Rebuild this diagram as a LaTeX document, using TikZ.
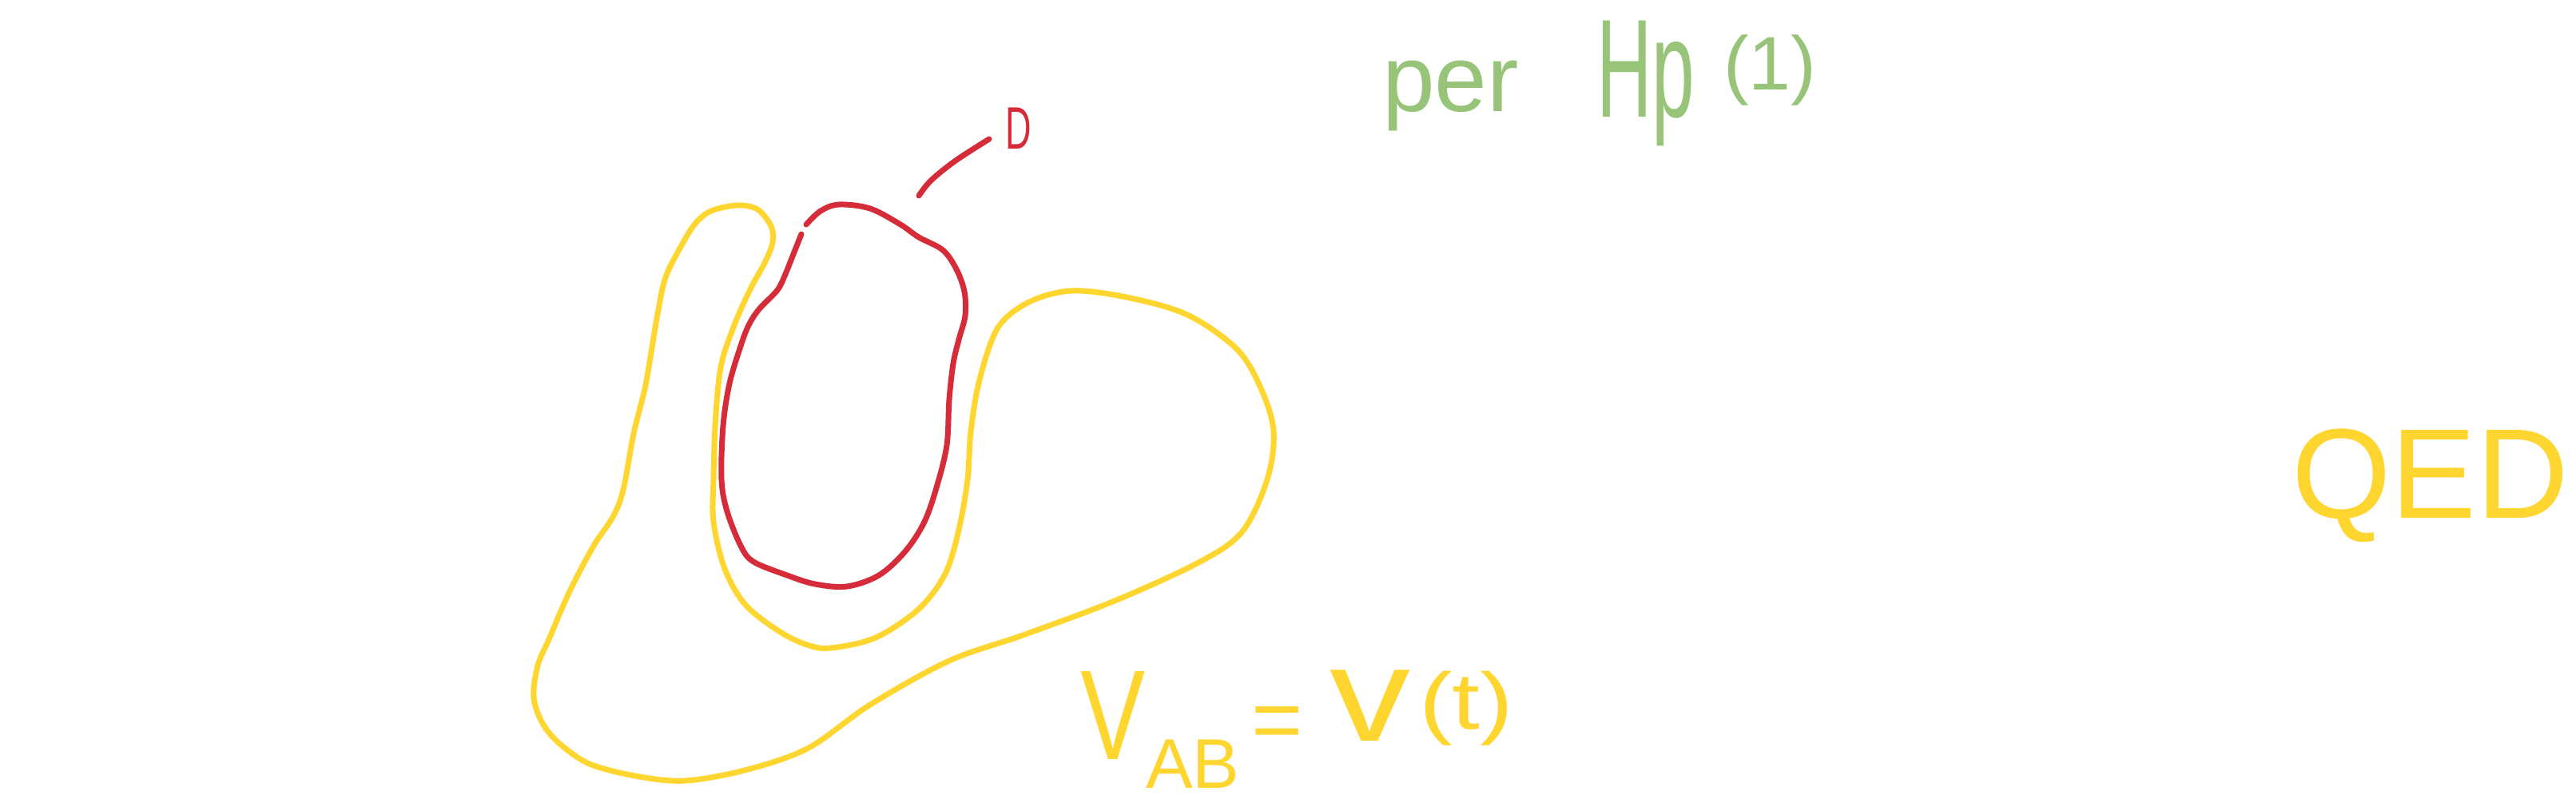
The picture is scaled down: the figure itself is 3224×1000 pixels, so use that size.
\documentclass[tikz,border=0pt]{standalone}
\usepackage{fontspec}
\usepackage{graphicx}
\setmainfont{Liberation Sans}
\definecolor{skyellow}{RGB}{255,214,48}
\definecolor{skred}{RGB}{214,43,56}
\definecolor{skgreen}{RGB}{152,196,122}
\begin{document}
\begin{tikzpicture}[x=1pt,y=-1pt,line cap=round,line join=round,
  ystroke/.style={draw=skyellow,line width=7pt},
  rstroke/.style={draw=skred,line width=7pt},
  lab/.style={inner sep=0pt,outer sep=0pt,anchor=base west}]
\useasboundingbox[fill=white] (0,0) rectangle (3224,1000);
% outer yellow contour
\draw[ystroke] plot[smooth cycle,tension=0.55] coordinates {
 (890,264) (923,257) (948,262) (965,283) (967,303) (958,327) (940,360) (923,397)
 (907,440) (900,473) (895,533) (893,600) (893,653) (907,712) (933,757) (975,790)
 (1010,807) (1040,811) (1096,798) (1150,762) (1183,718) (1200,663) (1211,600)
 (1215,540) (1226,475) (1249,410) (1288,378) (1341,364) (1410,372) (1486,394)
 (1548,437) (1578,486) (1594,540) (1586,600) (1555,665) (1502,703) (1395,752)
 (1280,795) (1188,827) (1089,882) (1012,936) (936,963) (859,977) (800,972)
 (740,957) (703,933) (680,907) (668,873) (673,833) (687,800) (713,740) (743,683)
 (767,647) (780,613) (793,543) (807,487) (813,453) (823,393) (833,347) (853,307)
 (870,280)};
% red U curve
\draw[rstroke] plot[smooth,tension=0.55] coordinates {
 (1009,281) (1027,264) (1050,256) (1089,261) (1127,281) (1150,297) (1180,313)
 (1197,337) (1207,365) (1208,395) (1200,425) (1193,455) (1188,500) (1185,557)
 (1173,607) (1157,653) (1133,690) (1100,720) (1060,734) (1020,731) (985,720)
 (943,703) (927,683) (910,640) (903,600) (905,533) (913,480) (927,433) (937,407)
 (950,387) (973,363) (983,343) (993,318) (1003,293)};
% red pointer stroke
\draw[rstroke] plot[smooth,tension=0.55] coordinates {
 (1150,245) (1165,226) (1196,201) (1238,174)};
% labels
\node[lab,text=skred,font=\fontsize{75}{80}\selectfont] (dlab) at (1258,187) {\scalebox{0.6}[1]{D}};
\node[lab,text=skgreen,font=\fontsize{118}{130}\selectfont] (per) at (1730,140) {per};
\node[lab,text=skgreen,font=\fontsize{175}{190}\selectfont] (hp) at (1998,147) {\scalebox{0.55}[1]{Hp}};
\node[lab,text=skgreen,font=\fontsize{95}{100}\selectfont] (one) at (2157,113) {(1)};
\node[lab,text=skyellow,font=\fontsize{160}{170}\selectfont] (qed) at (2868,648) {QED};
\node[lab,text=skyellow,font=\fontsize{160}{170}\selectfont] (vv) at (1352,950) {\scalebox{0.76}[1]{V}};
\node[lab,text=skyellow,font=\fontsize{88}{95}\selectfont] (ab) at (1434,986) {AB};
\node[lab,text=skyellow,font=\fontsize{110}{120}\selectfont] (eq) at (1566,938) {=};
\node[lab,text=skyellow,font=\fontsize{168}{180}\selectfont] (vt) at (1664,927) {\scalebox{1.2}[1]{v}};
\node[lab,text=skyellow,font=\fontsize{100}{110}\selectfont] (tt) at (1776,912) {\scalebox{1.25}[1]{(t)}};
\end{tikzpicture}
\end{document}
